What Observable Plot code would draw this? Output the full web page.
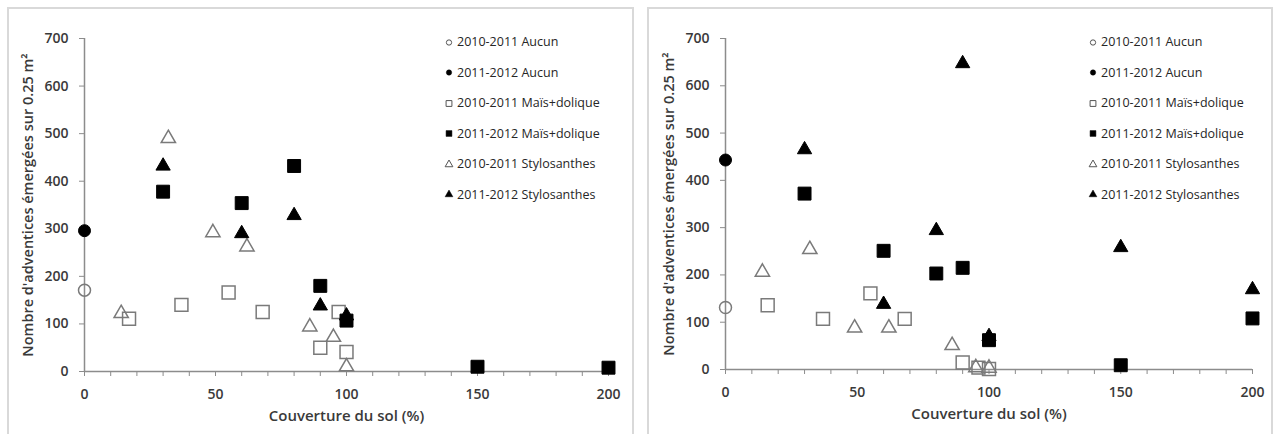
<!DOCTYPE html>
<html><head><meta charset="utf-8">
<script src="https://cdn.jsdelivr.net/npm/d3@7"></script>
<script src="https://cdn.jsdelivr.net/npm/@observablehq/plot@0.6"></script>
<style>
body{margin:0;background:#fff;}
#root{position:relative;width:1275px;height:434px;overflow:hidden;background:#fff;font-family:"Open Sans",sans-serif;}
.panel{position:absolute;border:2px solid #d9d9d9;box-sizing:border-box;}
.plot{position:absolute;top:0;}
.legend{position:absolute;font-size:12.5px;color:#262626;font-family:"Open Sans",sans-serif;}
.legend .row{height:30.5px;display:flex;align-items:center;white-space:nowrap;}
.legend svg{margin-right:3px;}
</style></head><body><div id="root"></div>
<script>
// ---- Data ----
const seriesNames = ["2010-2011 Aucun", "2011-2012 Aucun", "2010-2011 Maïs+dolique", "2011-2012 Maïs+dolique", "2010-2011 Stylosanthes", "2011-2012 Stylosanthes"];
const xLabel = "Couverture du sol (%)";
const yLabel = "Nombre d'adventices émergées sur 0.25 m²";
const xMajorTicks = [0, 50, 100, 150, 200];
const xMinorTicks = [0,10,20,30,40,50,60,70,80,90,100,110,120,130,140,150,160,170,180,190,200];
const yTicks = [0, 100, 200, 300, 400, 500, 600, 700];

// Panel 1 (left)
const p1_aucun_1011_x = [0];   const p1_aucun_1011_y = [171];
const p1_aucun_1112_x = [0];   const p1_aucun_1112_y = [296];
const p1_mais_1011_x = [17, 37, 55, 68, 90, 97, 100];
const p1_mais_1011_y = [111, 140, 166, 125, 50, 125, 41];
const p1_mais_1112_x = [30, 60, 80, 90, 100, 150, 200];
const p1_mais_1112_y = [378, 354, 432, 180, 107, 10, 8];
const p1_stylo_1011_x = [14, 32, 49, 62, 86, 95, 100];
const p1_stylo_1011_y = [122, 490, 292, 262, 94, 72, 10];
const p1_stylo_1112_x = [30, 60, 80, 90, 100];
const p1_stylo_1112_y = [432, 290, 328, 138, 117];

// Panel 2 (right)
const p2_aucun_1011_x = [0];   const p2_aucun_1011_y = [131];
const p2_aucun_1112_x = [0];   const p2_aucun_1112_y = [443];
const p2_mais_1011_x = [16, 37, 55, 68, 90, 96, 100];
const p2_mais_1011_y = [136, 107, 161, 107, 15, 4, 1];
const p2_mais_1112_x = [30, 60, 80, 90, 100, 150, 200];
const p2_mais_1112_y = [372, 251, 203, 215, 62, 9, 108];
const p2_stylo_1011_x = [14, 32, 49, 62, 86, 95, 100];
const p2_stylo_1011_y = [206, 254, 88, 88, 51, 4, 3];
const p2_stylo_1112_x = [30, 60, 80, 90, 100, 150, 200];
const p2_stylo_1112_y = [465, 138, 294, 647, 70, 258, 169];

// ---- Styles ----
const symbols = ["circle", "circle", "square", "square", "triangle", "triangle"];
const filled = [false, true, false, true, false, true];
const radius = {circle: 6, square: 7.3, triangle: 5.3};
const axisGray = "#8c8c8c";
const openStroke = "#7a7a7a";

function rows(xs, ys) { return xs.map((x, i) => ({x, y: ys[i]})); }

function panelPlot(series, dims) {
  const marks = [
    Plot.ruleY([0], {stroke: axisGray, strokeWidth: 1.5}),
    Plot.ruleX([0], {y1: 0, y2: 700, stroke: axisGray, strokeWidth: 1.5}),
    Plot.axisX({ticks: xMinorTicks, tickSize: 5, tickPadding: 13, tickFormat: d => xMajorTicks.includes(d) ? String(d) : "",
      stroke: axisGray, fill: "#3a3a3a", fontSize: 14, fontWeight: 600, label: null}),
    Plot.axisY({ticks: yTicks, tickSize: 5, tickPadding: 11, stroke: axisGray, fill: "#3a3a3a", fontSize: 14, fontWeight: 600, label: null}),
    Plot.text([xLabel], {frameAnchor: "bottom", dy: 49, fontSize: 15, fontWeight: 600, fill: "#3a3a3a", text: d => d}),
    Plot.text([yLabel], {frameAnchor: "left", textAnchor: "middle", dx: -56, rotate: -90, fontSize: 14.5, fontWeight: 600, fill: "#3a3a3a", text: d => d})
  ];
  series.forEach((s, i) => {
    const sym = symbols[i];
    marks.push(Plot.dot(rows(s[0], s[1]), {
      x: "x", y: "y", symbol: sym, r: radius[sym],
      fill: filled[i] ? "black" : "none",
      stroke: filled[i] ? "black" : openStroke,
      strokeWidth: filled[i] ? 1 : 1.5
    }));
  });
  return Plot.plot({
    width: dims.width, height: 434,
    marginLeft: dims.ml, marginRight: dims.mr, marginTop: 38, marginBottom: dims.mb,
    x: {domain: [0, 200]}, y: {domain: [0, 700]},
    style: {background: "transparent", overflow: "visible", fontFamily: "Open Sans"},
    marks
  });
}

function legend(left) {
  const div = document.createElement("div");
  div.className = "legend";
  div.style.left = left + "px";
  div.style.top = "26.5px";
  seriesNames.forEach((name, i) => {
    const row = document.createElement("div");
    row.className = "row";
    const svg = d3.create("svg").attr("width", 10).attr("height", 10);
    const sz = symbols[i] === "circle" ? 22 : symbols[i] === "square" ? 34 : 26;
    const sym = symbols[i] === "circle" ? d3.symbolCircle : symbols[i] === "square" ? d3.symbolSquare : d3.symbolTriangle;
    svg.append("path").attr("transform", "translate(5,5.5)")
      .attr("d", d3.symbol(sym, sz)())
      .attr("fill", filled[i] ? "black" : "white")
      .attr("stroke", filled[i] ? "black" : "#555").attr("stroke-width", filled[i] ? 0.5 : 1);
    row.appendChild(svg.node());
    const t = document.createElement("span");
    t.textContent = name;
    row.appendChild(t);
    div.appendChild(row);
  });
  return div;
}

const root = document.getElementById("root");
const b1 = document.createElement("div"); b1.className = "panel";
Object.assign(b1.style, {left: "7px", top: "7px", width: "627px", height: "450px"});
const b2 = document.createElement("div"); b2.className = "panel";
Object.assign(b2.style, {left: "647px", top: "7px", width: "626px", height: "450px"});
root.appendChild(b1); root.appendChild(b2);

const s1 = [[p1_aucun_1011_x, p1_aucun_1011_y], [p1_aucun_1112_x, p1_aucun_1112_y], [p1_mais_1011_x, p1_mais_1011_y], [p1_mais_1112_x, p1_mais_1112_y], [p1_stylo_1011_x, p1_stylo_1011_y], [p1_stylo_1112_x, p1_stylo_1112_y]];
const s2 = [[p2_aucun_1011_x, p2_aucun_1011_y], [p2_aucun_1112_x, p2_aucun_1112_y], [p2_mais_1011_x, p2_mais_1011_y], [p2_mais_1112_x, p2_mais_1112_y], [p2_stylo_1011_x, p2_stylo_1011_y], [p2_stylo_1112_x, p2_stylo_1112_y]];

const pl1 = panelPlot(s1, {width: 640, ml: 84, mr: 32, mb: 63});
pl1.classList.add("plot"); pl1.style.left = "0px";
const pl2 = panelPlot(s2, {width: 635, ml: 85, mr: 23, mb: 65});
pl2.classList.add("plot"); pl2.style.left = "640px";
root.appendChild(pl1); root.appendChild(pl2);
root.appendChild(legend(444));
root.appendChild(legend(1088));
</script></body></html>
